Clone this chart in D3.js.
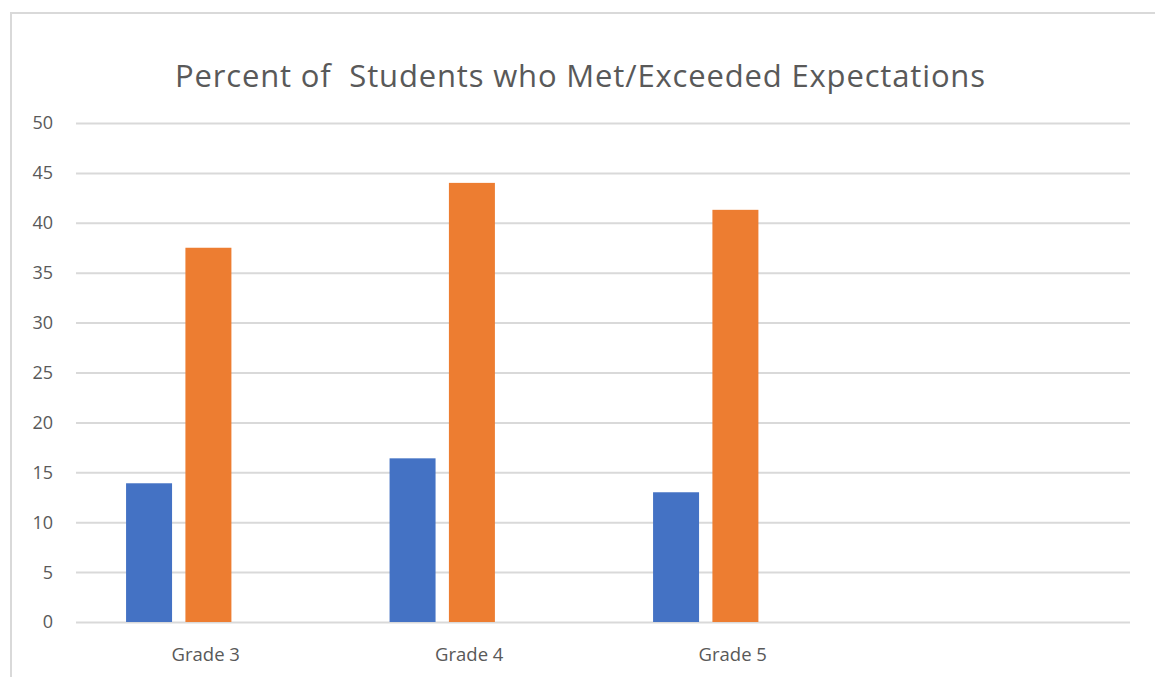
<!DOCTYPE html>
<meta charset="utf-8">
<style>
body { margin: 0; background: #fff; }
text { font-family: "Open Sans", "Lato", sans-serif; fill: #595959; }
.grid line { stroke: #d9d9d9; stroke-width: 2; }
.grid path { display: none; }
</style>
<body>
<svg width="1155" height="677"></svg>
<script src="https://cdn.jsdelivr.net/npm/d3@7"></script>
<script>
// chart data
var categories = ["Grade 3", "Grade 4", "Grade 5", ""];
var series = ["s1", "s2", "s3"];
var blueValues = [13.9, 16.4, 13.0, null];
var orangeValues = [37.5, 44.0, 41.3, null];
var emptyValues = [null, null, null, null];
var yTicks = [0, 5, 10, 15, 20, 25, 30, 35, 40, 45, 50];
var colors = ["#4472c4", "#ed7d31", "#a5a5a5"];

var svg = d3.select("svg"),
    margin = {top: 123, right: 25, bottom: 55, left: 76},
    width = 1130 - margin.left,
    height = 622 - margin.top;

// outer frame
svg.append("rect")
    .attr("x", 11).attr("y", 13)
    .attr("width", 1160).attr("height", 680)
    .attr("fill", "none")
    .attr("stroke", "#d9d9d9")
    .attr("stroke-width", 2);

svg.append("text")
    .attr("x", 580).attr("y", 87)
    .attr("text-anchor", "middle")
    .attr("textLength", 810)
    .style("font-size", "31px")
    .style("white-space", "pre")
    .text("Percent of  Students who Met/Exceeded Expectations");

var g = svg.append("g")
    .attr("transform", "translate(" + margin.left + "," + margin.top + ")");

var x = d3.scaleBand().domain(d3.range(categories.length)).range([0, width]);
var inner = d3.scaleBand().domain(series).range([x.bandwidth() * 0.19, x.bandwidth() * 0.815]).paddingInner(0.225);
var y = d3.scaleLinear().domain([0, 50]).range([height, 0]);

g.append("g")
    .attr("class", "grid")
    .call(d3.axisLeft(y).tickValues(yTicks).tickSize(-width).tickFormat(""));

yTicks.forEach(function(t) {
  g.append("text")
      .attr("x", -23)
      .attr("y", y(t))
      .attr("dy", "0.36em")
      .attr("text-anchor", "end")
      .style("font-size", "18px")
      .text(t);
});

var data = [blueValues, orangeValues, emptyValues];

data.forEach(function(vals, si) {
  g.selectAll(".bar" + si)
    .data(vals)
    .enter().append("rect")
      .filter(function(d) { return d != null; })
      .attr("x", function(d, i) { return x(i) + inner(series[si]); })
      .attr("y", function(d) { return y(d); })
      .attr("width", inner.bandwidth())
      .attr("height", function(d) { return height - y(d); })
      .attr("fill", colors[si]);
});

categories.forEach(function(c, i) {
  g.append("text")
      .attr("x", x(i) + x.bandwidth() / 2 - 2)
      .attr("y", height + 39)
      .attr("text-anchor", "middle")
      .style("font-size", "18.5px")
      .text(c);
});
</script>
</body>
